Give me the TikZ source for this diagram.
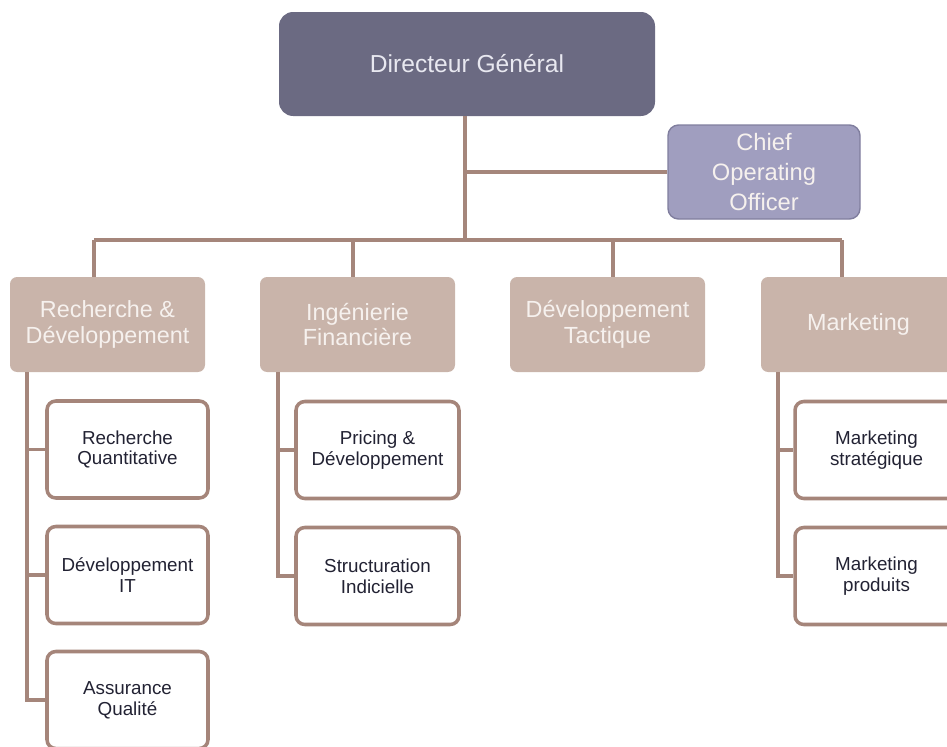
\documentclass[tikz,border=0pt]{standalone}
\usepackage{fontspec}
\setmainfont{Liberation Sans}
\definecolor{dgfill}{HTML}{6B6A82}
\definecolor{dgtext}{HTML}{E8E8F0}
\definecolor{coofill}{HTML}{A09EBF}
\definecolor{cooedge}{HTML}{807E9E}
\definecolor{lvfill}{HTML}{C9B4AA}
\definecolor{lvtext}{HTML}{F6F1EE}
\definecolor{linec}{HTML}{A5867B}
\definecolor{kidedge}{HTML}{A5857A}
\definecolor{kidtext}{HTML}{222233}
\begin{document}
\begin{tikzpicture}[x=0.02cm,y=-0.02cm,
  dgbox/.style={rectangle, rounded corners=8pt, fill=dgfill, text=dgtext,
    minimum width=376*0.02cm, minimum height=104*0.02cm,
    font=\fontsize{14}{16}\selectfont, align=center, inner sep=0pt},
  coobox/.style={rectangle, rounded corners=6pt, fill=coofill, draw=cooedge, line width=0.8pt, text=lvtext,
    minimum width=192*0.02cm, minimum height=94*0.02cm,
    font=\fontsize{13.5}{17}\selectfont, align=center, inner sep=0pt},
  lvbox/.style={rectangle, rounded corners=4pt, fill=lvfill, text=lvtext,
    minimum width=195*0.02cm, minimum height=95*0.02cm,
    font=\fontsize{13.3}{14.6}\selectfont, align=center, inner sep=0pt},
  kidbox/.style={rectangle, rounded corners=5pt, fill=white, draw=kidedge, line width=2pt, text=kidtext,
    minimum width=161*0.02cm, minimum height=97*0.02cm,
    font=\fontsize{10.7}{11.9}\selectfont, align=center, inner sep=0pt},
  conn/.style={draw=linec, line width=1.9pt}
]
\useasboundingbox (0,0) rectangle (947,747);
% top
\node[dgbox] (dg) at (467,64) {Directeur Général};
\node[coobox] (coo) at (764,172) {Chief\\Operating\\Officer};
% level 2
\node[lvbox] (rd) at (107.5,324.5) {Recherche \&\\Développement};
\node[lvbox] (if) at (357.5,324.5) {Ingénierie\\Financière};
\node[lvbox] (dt) at (607.5,324.5) {Développement\\Tactique};
\node[lvbox] (mk) at (858.5,324.5) {Marketing};
% children
\node[kidbox] (rq) at (127.5,449.5) {Recherche\\Quantitative};
\node[kidbox] (di) at (127.5,575) {Développement\\IT};
\node[kidbox] (aq) at (127.5,700) {Assurance\\Qualité};
\node[kidbox, minimum width=163*0.02cm] (pd) at (377.5,450) {Pricing \&\\Développement};
\node[kidbox, minimum width=163*0.02cm] (si) at (377.5,576) {Structuration\\Indicielle};
\node[kidbox, minimum width=163*0.02cm] (ms) at (876.5,450) {Marketing\\stratégique};
\node[kidbox, minimum width=163*0.02cm] (mp) at (876.5,576) {Marketing\\produits};
% bus
\coordinate (b1) at (94,240);
\coordinate (b2) at (353,240);
\coordinate (b3) at (613,240);
\coordinate (b4) at (842,240);
\coordinate (trunk) at (465,240);
\draw[conn] (dg.south -| trunk) -- (trunk);
\draw[conn] (trunk |- coo.west) -- (coo.west);
\draw[conn] (b1) -- (b4);
\draw[conn] (b1) -- (b1 |- rd.north);
\draw[conn] (b2) -- (b2 |- if.north);
\draw[conn] (b3) -- (b3 |- dt.north);
\draw[conn] (b4) -- (b4 |- mk.north);
% sub trees
\coordinate (v1) at (27,0);
\coordinate (v2) at (278,0);
\coordinate (v3) at (778,0);
\draw[conn] (rd.south -| v1) |- (aq.west);
\draw[conn] (v1 |- rq.west) -- (rq.west);
\draw[conn] (v1 |- di.west) -- (di.west);
\draw[conn] (if.south -| v2) |- (si.west);
\draw[conn] (v2 |- pd.west) -- (pd.west);
\draw[conn] (mk.south -| v3) |- (mp.west);
\draw[conn] (v3 |- ms.west) -- (ms.west);
\end{tikzpicture}
\end{document}
